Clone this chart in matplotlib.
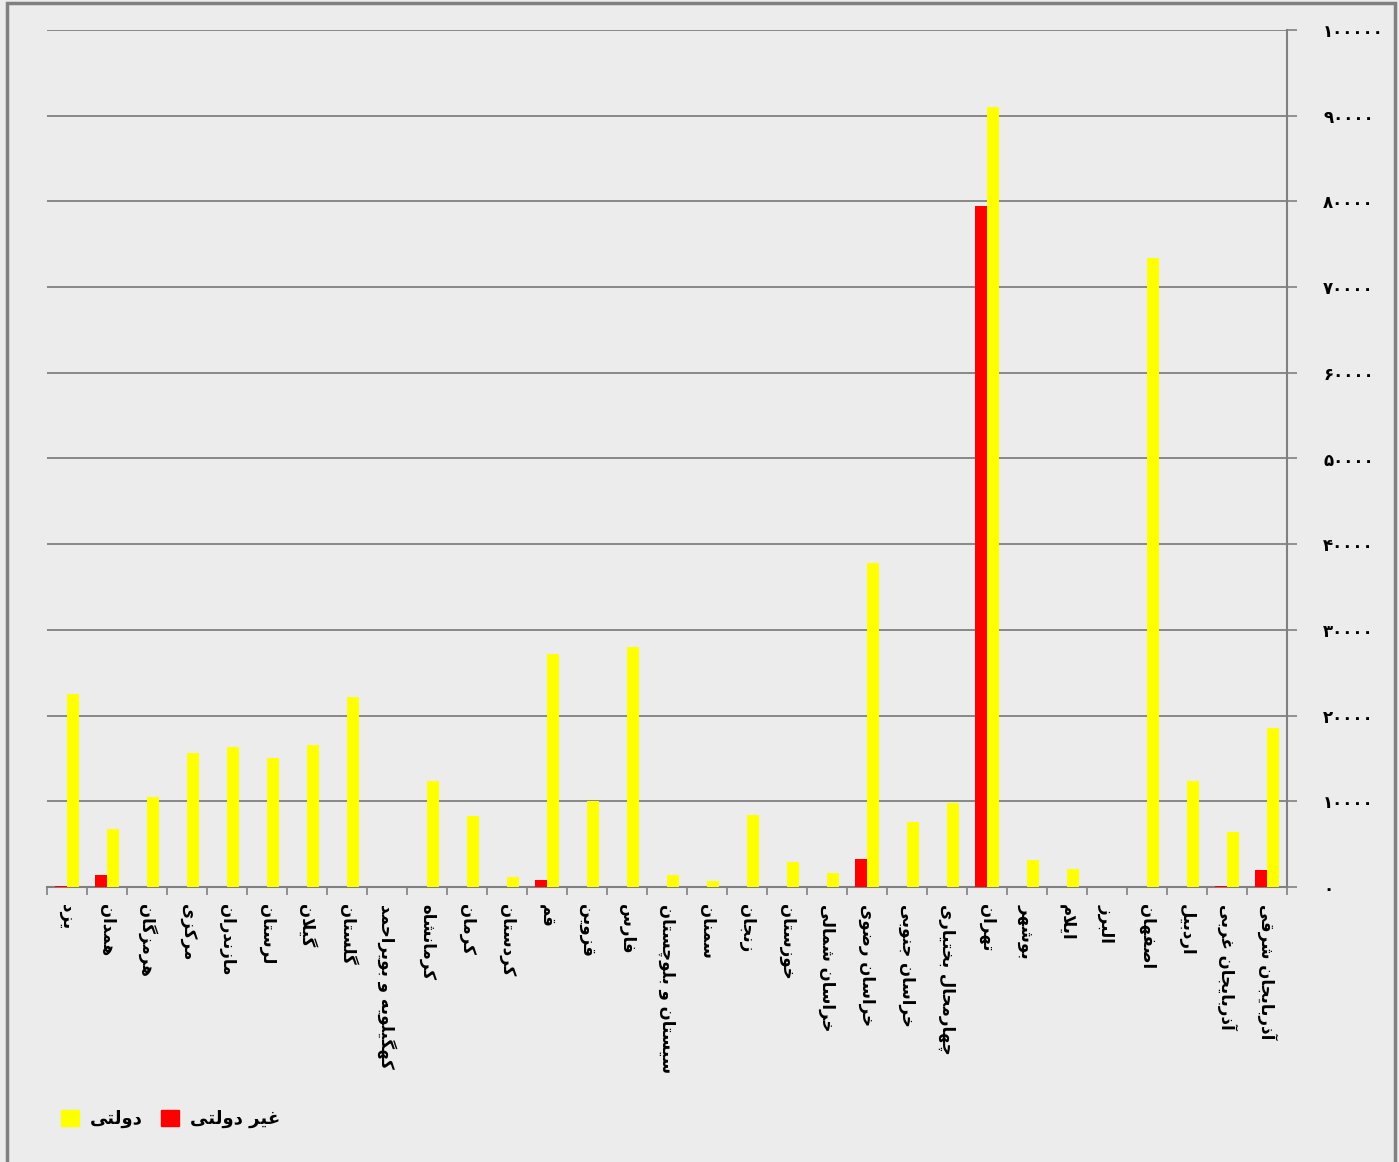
import matplotlib
matplotlib.use('Agg')
import matplotlib.pyplot as plt
from matplotlib.patches import Patch, Rectangle

# provinces, left to right as in the picture
provinces = ['یزد', 'همدان', 'هرمزگان', 'مرکزی', 'مازندران', 'لرستان', 'گیلان',
             'گلستان', 'کهگیلویه و بویراحمد', 'کرمانشاه', 'کرمان', 'کردستان', 'قم',
             'قزوین', 'فارس', 'سیستان و بلوچستان', 'سمنان', 'زنجان', 'خوزستان',
             'خراسان شمالی', 'خراسان رضوی', 'خراسان جنوبی', 'چهارمحال بختیاری',
             'تهران', 'بوشهر', 'ایلام', 'البرز', 'اصفهان', 'اردبیل',
             'آذربایجان غربی', 'آذربایجان شرقی']

# غیر دولتی (non-governmental)
private = [150, 1400, 0, 0, 0, 0, 0, 0, 0, 0, 0, 0, 800, 0, 0, 0, 0, 0, 0, 0,
           3300, 0, 0, 79500, 0, 0, 0, 0, 0, 150, 2000]
# دولتی (governmental)
public = [22500, 6800, 10500, 15600, 16300, 15100, 16600, 22200, 0, 12400, 8300,
          1200, 27200, 10000, 28000, 1400, 700, 8400, 2900, 1600, 37800, 7600,
          9800, 91000, 3100, 2100, 0, 73400, 12400, 6400, 18500]

yticks = list(range(0, 100001, 10000))

# --- tiny arabic shaper, matplotlib does no joining by itself ---
FORMS = {  # iso, fin, ini, med
    'ا': ('\uFE8D', '\uFE8E'), 'آ': ('\uFE81', '\uFE82'),
    'د': ('\uFEA9', '\uFEAA'), 'ذ': ('\uFEAB', '\uFEAC'),
    'ر': ('\uFEAD', '\uFEAE'), 'ز': ('\uFEAF', '\uFEB0'),
    'ژ': ('\uFB8A', '\uFB8B'), 'و': ('\uFEED', '\uFEEE'),
    'ب': ('\uFE8F', '\uFE90', '\uFE91', '\uFE92'),
    'پ': ('\uFB56', '\uFB57', '\uFB58', '\uFB59'),
    'ت': ('\uFE95', '\uFE96', '\uFE97', '\uFE98'),
    'ج': ('\uFE9D', '\uFE9E', '\uFE9F', '\uFEA0'),
    'چ': ('\uFB7A', '\uFB7B', '\uFB7C', '\uFB7D'),
    'ح': ('\uFEA1', '\uFEA2', '\uFEA3', '\uFEA4'),
    'خ': ('\uFEA5', '\uFEA6', '\uFEA7', '\uFEA8'),
    'س': ('\uFEB1', '\uFEB2', '\uFEB3', '\uFEB4'),
    'ش': ('\uFEB5', '\uFEB6', '\uFEB7', '\uFEB8'),
    'ص': ('\uFEB9', '\uFEBA', '\uFEBB', '\uFEBC'),
    'ض': ('\uFEBD', '\uFEBE', '\uFEBF', '\uFEC0'),
    'ع': ('\uFEC9', '\uFECA', '\uFECB', '\uFECC'),
    'غ': ('\uFECD', '\uFECE', '\uFECF', '\uFED0'),
    'ف': ('\uFED1', '\uFED2', '\uFED3', '\uFED4'),
    'ق': ('\uFED5', '\uFED6', '\uFED7', '\uFED8'),
    'ک': ('\uFB8E', '\uFB8F', '\uFB90', '\uFB91'),
    'گ': ('\uFB92', '\uFB93', '\uFB94', '\uFB95'),
    'ل': ('\uFEDD', '\uFEDE', '\uFEDF', '\uFEE0'),
    'م': ('\uFEE1', '\uFEE2', '\uFEE3', '\uFEE4'),
    'ن': ('\uFEE5', '\uFEE6', '\uFEE7', '\uFEE8'),
    'ه': ('\uFEE9', '\uFEEA', '\uFEEB', '\uFEEC'),
    'ی': ('\uFBFC', '\uFBFD', '\uFBFE', '\uFBFF'),
}


def shape(s):
    chars = list(s)
    out = []
    i = 0
    while i < len(chars):
        c = chars[i]
        prev = chars[i - 1] if i > 0 else ' '
        joins_prev = prev in FORMS and len(FORMS[prev]) == 4
        if c == 'ل' and i + 1 < len(chars) and chars[i + 1] == 'ا':  # lam-alef
            out.append('\uFEFC' if joins_prev else '\uFEFB')
            i += 2
            continue
        if c not in FORMS:
            out.append(c)
            i += 1
            continue
        f = FORMS[c]
        nxt = chars[i + 1] if i + 1 < len(chars) else ' '
        joins_next = len(f) == 4 and nxt in FORMS
        if joins_prev and joins_next:
            out.append(f[3])
        elif joins_prev:
            out.append(f[1])
        elif joins_next:
            out.append(f[2])
        else:
            out.append(f[0])
        i += 1
    return ''.join(out)[::-1]


def fa_digits(n):
    return str(n).translate(str.maketrans('0123456789', '۰۱۲۳۴۵۶۷۸۹'))


plt.rcParams['font.family'] = ['DejaVu Sans']

fig = plt.figure(figsize=(13.99, 11.62), dpi=100)
fig.patch.set_facecolor('#ececec')
fig.patches.append(Rectangle((7 / 1399, -0.01), 1388 / 1399, 1.007, transform=fig.transFigure,
                             fill=False, edgecolor='#808080', linewidth=2.5))

ax = fig.add_axes([47 / 1399, 1 - 887 / 1162, 1240 / 1399, 857 / 1162])
ax.set_facecolor('none')

x = list(range(len(provinces)))
w = 0.29
ax.bar([i - w for i in x], private, width=w, align='edge', color='#ff0000', zorder=3)
ax.bar(x, public, width=w, align='edge', color='#ffff00', zorder=3)

ax.set_xlim(-0.5, len(provinces) - 0.5)
ax.set_ylim(0, 100000)

ax.yaxis.tick_right()
ax.set_yticks(yticks)
ax.set_yticklabels([fa_digits(v) for v in yticks], fontsize=12, fontweight='bold')
ax.tick_params(axis='y', length=7, width=1.2, color='#808080', pad=19)
ax.grid(axis='y', color='#808080', linewidth=1.3, zorder=0)

ax.set_xticks(x)
ax.set_xticklabels([shape(p) for p in provinces], rotation=-90, fontsize=12,
                   fontweight='bold', va='top', ha='center')
ax.tick_params(axis='x', length=0, pad=12)
ax.set_xticks([i - 0.5 for i in range(len(provinces) + 1)], minor=True)
ax.tick_params(axis='x', which='minor', length=6, width=1.2, color='#808080')

for s in ['left', 'top']:
    ax.spines[s].set_visible(False)
for s in ['right', 'bottom']:
    ax.spines[s].set_color('#808080')
    ax.spines[s].set_linewidth(1.5)

handles = [Patch(color='#ffff00'), Patch(color='#ff0000')]
fig.legend(handles, [shape('دولتی'), shape('غیر دولتی')], ncol=2, frameon=False,
           loc='lower left', bbox_to_anchor=(0.032, 0.015),
           prop={'size': 13, 'weight': 'bold'}, handlelength=1.0, handleheight=1.0,
           handletextpad=0.6, columnspacing=1.0)

plt.savefig('out.png', dpi=100, facecolor=fig.get_facecolor())
